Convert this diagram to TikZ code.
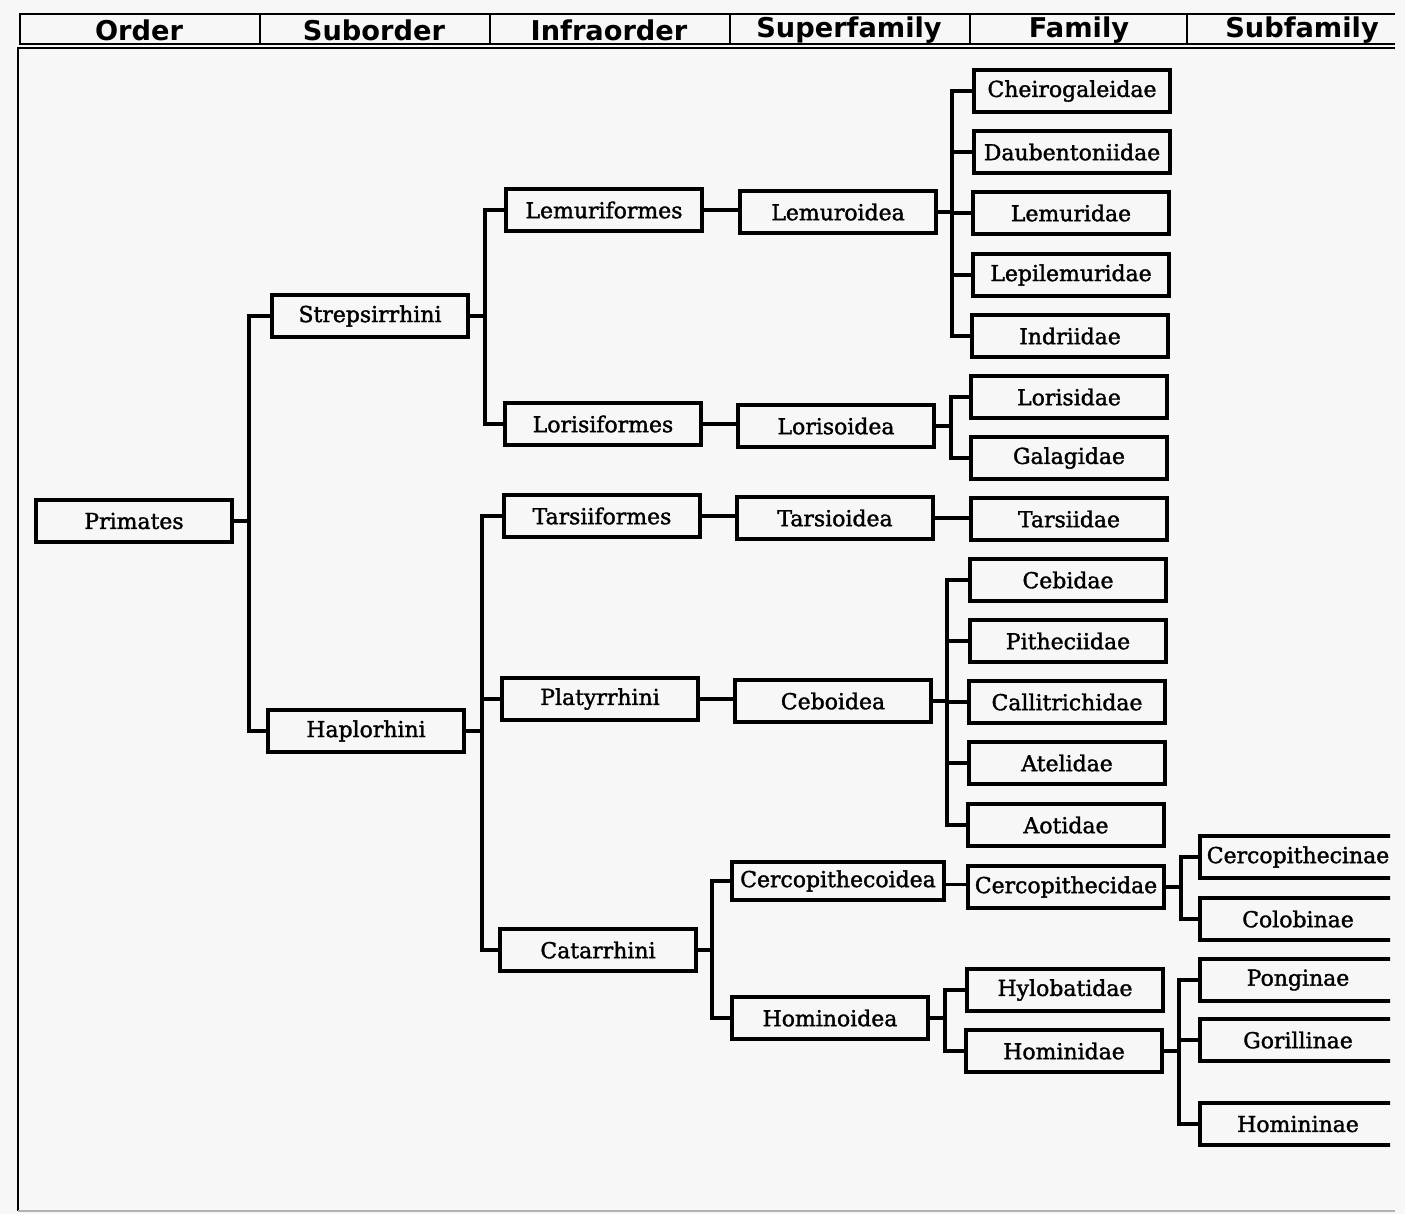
\documentclass[tikz,border=0pt]{standalone}
\usepackage{fontspec}
\setmainfont{DejaVu Serif}[BoldFont=DejaVu Serif, BoldFeatures={FakeBold=1.6}]
\newfontfamily\headfont{DejaVu Sans}

\begin{document}
\begin{tikzpicture}[
    x=0.02cm, y=-0.02cm,
    every node/.style={font=\bfseries\fontsize{12.5}{14}\selectfont},
    taxon/.style={draw, line width=2.2pt, minimum width=3.92cm, minimum height=0.84cm, inner sep=2pt},
    wide taxon/.style={taxon, minimum width=4.24cm, minimum height=0.76cm},
    link/.style={line width=2.2pt},
    frame/.style={line width=1.2pt},
    head/.style={font=\headfont\bfseries\fontsize{15.5}{17}\selectfont}
]

% === PAGE ===
\fill[black!3] (0,0) rectangle (1405,1214);
\useasboundingbox (0,0) rectangle (1405,1214);

% === HEADER ===
\draw[frame] (1395,14) -- (20,14) -- (20,44) -- (1395,44);
\foreach \x in {260,490,730,970,1187}
    \draw[frame] (\x,14) -- (\x,44);
\node[head] (hOrder) at (139,30) {Order};
\node[head] (hSub) at (374,30) {Suborder};
\node[head] (hInfra) at (609,30) {Infraorder};
\node[head] (hSuper) at (849,30) {Superfamily};
\node[head] (hFam) at (1079,30) {Family};
\node[head] (hSubfam) at (1302,30) {Subfamily};

% === FRAME ===
\draw[frame] (1395,48) -- (18,48) -- (18,1211);
\draw[gray!60, line width=0.8pt] (18,1211) -- (1395,1211);

% === ORDER / SUBORDER / INFRAORDER ===
\node[taxon] (primates) at (134,521) {Primates};
\node[taxon] (strep) at (370,316) {Strepsirrhini};
\node[taxon] (haplo) at (366,731) {Haplorhini};
\node[taxon] (lemurif) at (604,210) {Lemuriformes};
\node[taxon] (lorisif) at (603,424) {Lorisiformes};
\node[taxon] (tarsiif) at (602,516) {Tarsiiformes};
\node[taxon] (platy) at (600,699) {Platyrrhini};
\node[taxon] (catar) at (598,950) {Catarrhini};

% === SUPERFAMILY ===
\node[taxon] (lemuro) at (838,212) {Lemuroidea};
\node[taxon] (loriso) at (836,426) {Lorisoidea};
\node[taxon] (tarsio) at (835,518) {Tarsioidea};
\node[taxon] (cebo) at (833,701) {Ceboidea};
\node[wide taxon] (cercoid) at (838,881) {Cercopithecoidea};
\node[taxon] (homoid) at (830,1018) {Hominoidea};

% === FAMILY ===
\node[taxon] (cheiro) at (1072,91) {Cheirogaleidae};
\node[taxon] (daub) at (1072,152) {Daubentoniidae};
\node[taxon] (lemurid) at (1071,213) {Lemuridae};
\node[taxon] (lepil) at (1071,275) {Lepilemuridae};
\node[taxon] (indri) at (1070,336) {Indriidae};
\node[taxon] (lorisid) at (1069,397) {Lorisidae};
\node[taxon] (galag) at (1069,458) {Galagidae};
\node[taxon] (tarsiid) at (1069,519) {Tarsiidae};
\node[taxon] (cebid) at (1068,580) {Cebidae};
\node[taxon] (pithec) at (1068,641) {Pitheciidae};
\node[taxon] (callit) at (1067,702) {Callitrichidae};
\node[taxon] (atel) at (1067,763) {Atelidae};
\node[taxon] (aotid) at (1066,825) {Aotidae};
\node[taxon] (cercid) at (1066,887) {Cercopithecidae};
\node[taxon] (hylob) at (1065,990) {Hylobatidae};
\node[taxon] (hominid) at (1064,1051) {Hominidae};

% === SUBFAMILY (cut at the right edge) ===
\begin{scope}
\clip (0,0) rectangle (1390,1214);
\node[taxon] (cercin) at (1298,857) {Cercopithecinae};
\node[taxon] (colob) at (1298,919) {Colobinae};
\node[taxon] (pong) at (1298,980) {Ponginae};
\node[taxon] (gorill) at (1298,1040) {Gorillinae};
\node[taxon] (homin) at (1298,1124) {Homininae};
\end{scope}

% === BRANCHES ===
\foreach \kid in {strep,haplo}
    \draw[link] (primates.east) -- ++(15,0) |- (\kid.west);
\foreach \kid in {lemurif,lorisif}
    \draw[link] (strep.east) -- ++(15,0) |- (\kid.west);
\foreach \kid in {tarsiif,platy,catar}
    \draw[link] (haplo.east) -- ++(16,0) |- (\kid.west);
\foreach \kid in {cercoid,homoid}
    \draw[link] (catar.east) -- ++(14,0) |- (\kid.west);
\draw[link] (lemurif.east) -- (lemurif.east -| lemuro.west);
\draw[link] (lorisif.east) -- (lorisif.east -| loriso.west);
\draw[link] (tarsiif.east) -- (tarsiif.east -| tarsio.west);
\draw[link] (platy.east) -- (platy.east -| cebo.west);
\foreach \kid in {cheiro,daub,lemurid,lepil,indri}
    \draw[link] (lemuro.east) -- ++(14,0) |- (\kid.west);
\foreach \kid in {lorisid,galag}
    \draw[link] (loriso.east) -- ++(15,0) |- (\kid.west);
\draw[link] (tarsio.east) -- (tarsio.east -| tarsiid.west);
\foreach \kid in {cebid,pithec,callit,atel,aotid}
    \draw[link] (cebo.east) -- ++(14,0) |- (\kid.west);
\draw[link] ([yshift=-2pt]cercoid.east) -- ([yshift=-2pt]cercoid.east -| cercid.west);
\foreach \kid in {hylob,hominid}
    \draw[link] (homoid.east) -- ++(15,0) |- (\kid.west);
\foreach \kid in {cercin,colob}
    \draw[link] (cercid.east) -- ++(15,0) |- (\kid.west);
\foreach \kid in {pong,gorill,homin}
    \draw[link] (hominid.east) -- ++(15,0) |- (\kid.west);

\end{tikzpicture}
\end{document}
